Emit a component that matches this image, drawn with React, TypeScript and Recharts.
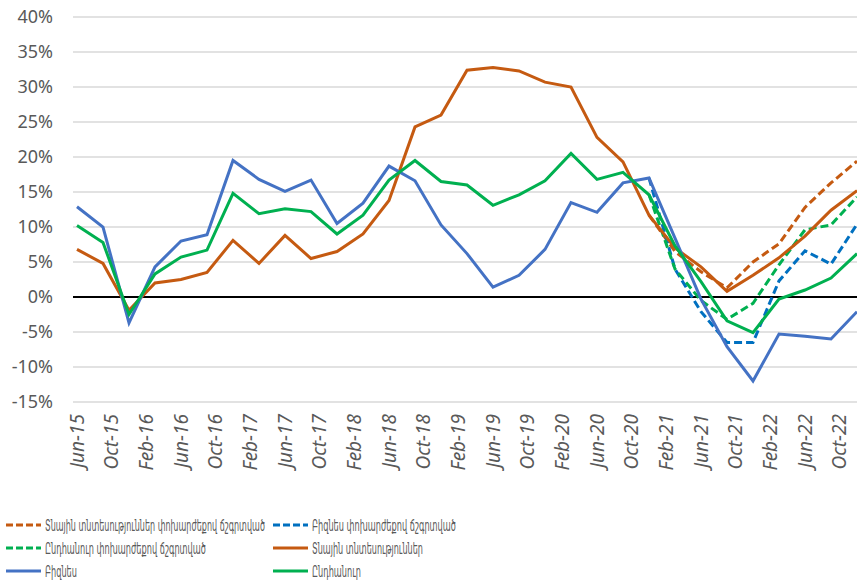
import React, { useLayoutEffect, useRef, useState } from "react";
import {
  LineChart,
  Line,
  XAxis,
  YAxis,
  CartesianGrid,
  ReferenceLine,
  Legend,
} from "recharts";

// quarterly observations
const quarters = [
  "Jun-15", "Sep-15", "Dec-15", "Mar-16", "Jun-16", "Sep-16", "Dec-16",
  "Mar-17", "Jun-17", "Sep-17", "Dec-17", "Mar-18", "Jun-18", "Sep-18",
  "Dec-18", "Mar-19", "Jun-19", "Sep-19", "Dec-19", "Mar-20", "Jun-20",
  "Sep-20", "Dec-20", "Mar-21", "Jun-21", "Sep-21", "Dec-21", "Mar-22",
  "Jun-22", "Sep-22", "Dec-22",
];

const tickLabels = [
  "Jun-15", "Oct-15", "Feb-16", "Jun-16", "Oct-16", "Feb-17", "Jun-17",
  "Oct-17", "Feb-18", "Jun-18", "Oct-18", "Feb-19", "Jun-19", "Oct-19",
  "Feb-20", "Jun-20", "Oct-20", "Feb-21", "Jun-21", "Oct-21", "Feb-22",
  "Jun-22", "Oct-22",
];

const yTicks = [-15, -10, -5, 0, 5, 10, 15, 20, 25, 30, 35, 40];

const households = [
  6.8, 4.8, -1.9, 2.0, 2.5, 3.5, 8.1, 4.8, 8.8, 5.5, 6.5, 9.0, 13.8, 24.3,
  26.0, 32.4, 32.8, 32.3, 30.7, 30.0, 22.8, 19.3, 11.7, 7.0, 4.3, 0.8, 3.1,
  5.6, 8.7, 12.4, 15.2,
];
const business = [
  12.9, 10.0, -3.7, 4.3, 8.0, 8.9, 19.5, 16.8, 15.1, 16.7, 10.5, 13.4, 18.7,
  16.6, 10.3, 6.2, 1.4, 3.1, 6.8, 13.5, 12.1, 16.3, 17.0, 8.4, -0.3, -7.1,
  -12.0, -5.3, -5.6, -6.0, -2.1,
];
const total = [
  10.2, 7.8, -2.5, 3.3, 5.7, 6.7, 14.8, 11.9, 12.6, 12.2, 9.0, 11.7, 16.7,
  19.5, 16.5, 16.0, 13.1, 14.6, 16.6, 20.5, 16.8, 17.8, 14.6, 7.3, 2.2, -3.4,
  -5.1, -0.3, 1.0, 2.7, 6.2,
];

// exchange-rate adjusted, from Dec-20
const householdsFx = [11.7, 6.5, 3.6, 1.3, 5.0, 7.6, 12.8, 16.3, 19.4];
const businessFx = [17.0, 4.0, -2.1, -6.5, -6.5, 2.3, 6.6, 4.7, 10.4];
const totalFx = [14.6, 4.0, -0.5, -3.2, -0.9, 4.6, 9.6, 10.3, 14.3];
const fxStart = "Dec-20";

const series = [
  { key: "householdsFx", name: "Տնային տնտեսություններ փոխարժեքով ճշգրտված", color: "#C55A11", dashed: true },
  { key: "businessFx", name: "Բիզնես  փոխարժեքով ճշգրտված", color: "#0070C0", dashed: true },
  { key: "totalFx", name: "Ընդհանուր  փոխարժեքով ճշգրտված", color: "#00B050", dashed: true },
  { key: "households", name: "Տնային տնտեսություններ", color: "#C55A11", dashed: false },
  { key: "business", name: "Բիզնես", color: "#4472C4", dashed: false },
  { key: "total", name: "Ընդհանուր", color: "#00B050", dashed: false },
];

const MONTHS = ["Jan", "Feb", "Mar", "Apr", "May", "Jun", "Jul", "Aug", "Sep", "Oct", "Nov", "Dec"];
const monthNo = (s: string) => (2000 + Number(s.slice(4))) * 12 + MONTHS.indexOf(s.slice(0, 3));
const base = monthNo(quarters[0]);
const toX = (s: string) => monthNo(s) - base;

const fxOffset = quarters.indexOf(fxStart);
const fxAt = (arr: number[], i: number) =>
  i >= fxOffset ? arr[i - fxOffset] : null;

const data = quarters.map((q, i) => ({
  m: toX(q),
  households: households[i],
  business: business[i],
  total: total[i],
  householdsFx: fxAt(householdsFx, i),
  businessFx: fxAt(businessFx, i),
  totalFx: fxAt(totalFx, i),
}));

const tickPos = tickLabels.map(toX);
const tickName: Record<number, string> = {};
tickLabels.forEach((t) => (tickName[toX(t)] = t));

const FONT = "'Noto Sans', 'DejaVu Sans', sans-serif";
const GREY = "#595959";

const XTick = (props: any) => {
  const { x, y, payload } = props;
  return (
    <g transform={`translate(${x},${y})`}>
      <text
        transform="rotate(-90)"
        textAnchor="end"
        dy="0.35em"
        fontSize={19}
        fontStyle="italic"
        fontFamily={FONT}
        fill={GREY}
      >
        {tickName[payload.value]}
      </text>
    </g>
  );
};

// squeeze text horizontally to the condensed width of the original legend
const FitText = ({ x, y, width, children }: any) => {
  const ref = useRef<SVGTextElement>(null);
  const [sx, setSx] = useState(1);
  useLayoutEffect(() => {
    if (ref.current) {
      const w = ref.current.getComputedTextLength();
      if (w > 0) setSx(width / w);
    }
  }, [width]);
  return (
    <text
      ref={ref}
      transform={`translate(${x},${y}) scale(${sx},1)`}
      fontSize={16}
      fontFamily="'DejaVu Sans', sans-serif"
      fill={GREY}
    >
      {children}
    </text>
  );
};

// legend layout (2 columns, row-wise like Excel)
const legendCols = [6, 273];
const legendRows = [23, 46, 69];
const legendTextLength = [220, 144, 161, 111, 32, 49];

const LegendBox = () => (
  <svg width={857} height={80} style={{ display: "block" }}>
    {series.map((s, i) => {
      const x = legendCols[i % 2];
      const y = legendRows[Math.floor(i / 2)];
      return (
        <g key={s.key}>
          <line
            x1={x}
            x2={x + 35}
            y1={y}
            y2={y}
            stroke={s.color}
            strokeWidth={3}
            strokeDasharray={s.dashed ? "7 3" : undefined}
          />
          <FitText x={x + 39} y={y + 6} width={legendTextLength[i]}>
            {s.name}
          </FitText>
        </g>
      );
    })}
  </svg>
);

export default function App() {
  return (
    <div style={{ position: "absolute", left: 0, top: 0, width: 857, height: 582, background: "#fff" }}>
      <LineChart
        width={857}
        height={582}
        data={data}
        margin={{ top: 17, right: 0, bottom: 0, left: 0 }}
      >
        <CartesianGrid vertical={false} stroke="#D9D9D9" strokeWidth={1.5} />
        <XAxis
          dataKey="m"
          type="number"
          domain={["dataMin", "dataMax"]}
          ticks={tickPos}
          interval={0}
          padding={{ left: 4, right: 0 }}
          axisLine={false}
          tickLine={false}
          tickMargin={6}
          height={100}
          tick={<XTick />}
        />
        <YAxis
          domain={[-15, 40]}
          ticks={yTicks}
          width={73}
          axisLine={false}
          tickLine={false}
          tickMargin={14}
          tickFormatter={(v: number) => `${v}%`}
          tick={{ fontSize: 18, fill: GREY, fontFamily: FONT }}
        />
        <ReferenceLine y={0} stroke="#000" strokeWidth={2} />
        {series.map((s) => (
          <Line
            key={s.key}
            type="linear"
            dataKey={s.key}
            name={s.name}
            stroke={s.color}
            strokeWidth={3}
            strokeDasharray={s.dashed ? "8 4" : undefined}
            dot={false}
            activeDot={false}
            isAnimationActive={false}
          />
        ))}
        <Legend verticalAlign="bottom" content={<LegendBox />} />
      </LineChart>
    </div>
  );
}
